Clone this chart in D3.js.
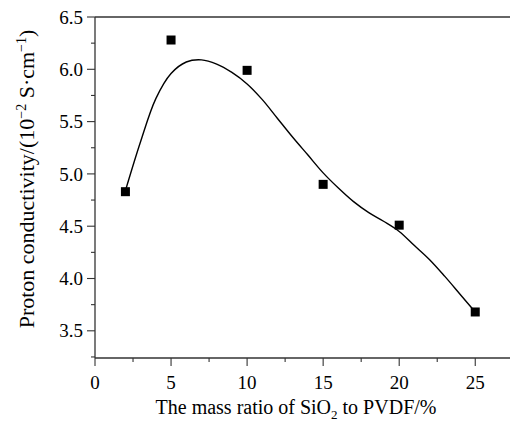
<!DOCTYPE html>
<html>
<head>
<meta charset="utf-8">
<script src="https://cdnjs.cloudflare.com/ajax/libs/d3/7.8.5/d3.min.js"></script>
<style>
  body { margin: 0; background: #fff; }
  svg { display: block; }
  text { font-family: "Liberation Serif", "Times New Roman", serif; fill: #000; }
</style>
</head>
<body>
<script>
// measured points
var ratio = [2, 5, 10, 15, 20, 25];
var conductivity = [4.83, 6.28, 5.99, 4.90, 4.51, 3.68];

// fitted curve
var fitX = [2, 3, 4, 5, 6, 7, 8, 9, 10, 11, 12, 13, 14, 15, 16, 17, 18, 19, 20, 21, 22, 23, 24, 25];
var fitY = [4.84, 5.31, 5.72, 5.96, 6.07, 6.09, 6.05, 5.97, 5.86, 5.71, 5.53, 5.35, 5.18, 5.01, 4.865, 4.735, 4.63, 4.545, 4.45, 4.315, 4.18, 4.02, 3.85, 3.68];

var xTicks = [0, 5, 10, 15, 20, 25];
var yTicks = [3.5, 4.0, 4.5, 5.0, 5.5, 6.0, 6.5];

var width = 510, height = 426;
var mLeft = 95, mTop = 17, mBottom = 358;

var svg = d3.select("body").append("svg").attr("width", width).attr("height", height);

var x = d3.scaleLinear().domain([0, 27.5]).range([mLeft, mLeft + 27.5 * 15.21]);
var y = d3.scaleLinear().domain([3.24, 6.5]).range([mBottom, mTop]);

// top frame line
svg.append("line")
      .attr("x1", mLeft).attr("x2", width + 5)
      .attr("y1", mTop).attr("y2", mTop)
      .attr("stroke", "#333").attr("stroke-width", 1.3);

// x axis
var xAxis = svg.append("g").attr("transform", "translate(0," + mBottom + ")");
xAxis.append("line")
      .attr("x1", mLeft).attr("x2", width + 5)
      .attr("stroke", "#333").attr("stroke-width", 1.3);
xAxis.selectAll("line.minor")
      .data(d3.range(2.5, 27.5, 5))
      .enter().append("line")
      .attr("class", "minor")
      .attr("x1", function(d){return x(d);}).attr("x2", function(d){return x(d);})
      .attr("y1", 0).attr("y2", 4)
      .attr("stroke", "#333").attr("stroke-width", 1.1);
xAxis.selectAll("line.major")
      .data(xTicks)
      .enter().append("line")
      .attr("class", "major")
      .attr("x1", function(d){return x(d);}).attr("x2", function(d){return x(d);})
      .attr("y1", 0).attr("y2", 8)
      .attr("stroke", "#333").attr("stroke-width", 1.1);
xAxis.selectAll("text")
      .data(xTicks)
      .enter().append("text")
      .attr("x", function(d){return x(d);})
      .attr("y", 31)
      .attr("text-anchor", "middle")
      .attr("font-size", 19)
      .text(function(d){return d;});

// y axis
var yAxis = svg.append("g").attr("transform", "translate(" + mLeft + ",0)");
yAxis.append("line")
      .attr("y1", mTop).attr("y2", mBottom)
      .attr("stroke", "#333").attr("stroke-width", 1.3);
yAxis.selectAll("line.minor")
      .data(d3.range(3.25, 6.5, 0.5))
      .enter().append("line")
      .attr("class", "minor")
      .attr("y1", function(d){return y(d);}).attr("y2", function(d){return y(d);})
      .attr("x1", 0).attr("x2", -4)
      .attr("stroke", "#333").attr("stroke-width", 1.1);
yAxis.selectAll("line.major")
      .data(yTicks)
      .enter().append("line")
      .attr("class", "major")
      .attr("y1", function(d){return y(d);}).attr("y2", function(d){return y(d);})
      .attr("x1", 0).attr("x2", -8)
      .attr("stroke", "#333").attr("stroke-width", 1.1);
yAxis.selectAll("text")
      .data(yTicks)
      .enter().append("text")
      .attr("x", -12)
      .attr("y", function(d){return y(d);})
      .attr("dy", "0.35em")
      .attr("text-anchor", "end")
      .attr("font-size", 19)
      .text(function(d){return d.toFixed(1);});

// fitted curve
var line = d3.line()
      .x(function(d){return x(d[0]);})
      .y(function(d){return y(d[1]);})
      .curve(d3.curveCatmullRom);
svg.append("path")
      .datum(d3.zip(fitX, fitY))
      .attr("d", line)
      .attr("fill", "none")
      .attr("stroke", "#000")
      .attr("stroke-width", 1.4);

// markers
svg.selectAll("rect.pt")
      .data(d3.zip(ratio, conductivity))
      .enter().append("rect")
      .attr("class", "pt")
      .attr("x", function(d){return x(d[0]) - 4.5;})
      .attr("y", function(d){return y(d[1]) - 4.5;})
      .attr("width", 9).attr("height", 9)
      .attr("fill", "#000");

// axis titles
var xt = svg.append("text")
      .attr("x", 296).attr("y", 414)
      .attr("text-anchor", "middle")
      .attr("font-size", 20);
xt.append("tspan").text("The mass ratio of SiO");
xt.append("tspan").attr("font-size", 13).attr("dy", 5).text("2");
xt.append("tspan").attr("dy", -5).text(" to PVDF/%");

var yt = svg.append("text")
      .attr("transform", "translate(34,179) rotate(-90)")
      .attr("text-anchor", "middle")
      .attr("font-size", 22);
yt.append("tspan").text("Proton conductivity/(10");
yt.append("tspan").attr("font-size", 14).attr("dy", -8).text("\u22122");
yt.append("tspan").attr("dy", 8).text(" S\u00B7cm");
yt.append("tspan").attr("font-size", 14).attr("dy", -8).text("\u22121");
yt.append("tspan").attr("dy", 8).text(")");
</script>
</body>
</html>
